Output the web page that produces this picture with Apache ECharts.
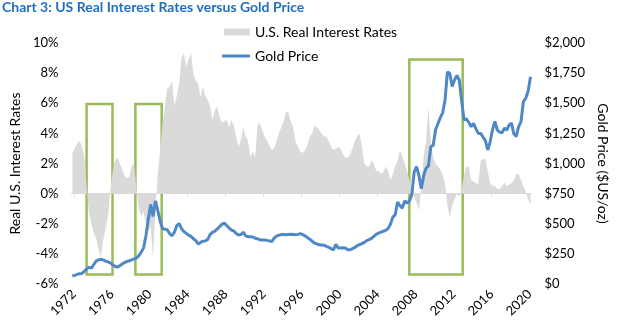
<!DOCTYPE html>
<html><head><meta charset="utf-8">
<script src="https://cdn.jsdelivr.net/npm/echarts@6/dist/echarts.min.js"></script>
<style>html,body{margin:0;padding:0;background:#fff}#c{width:618px;height:322px}</style>
</head><body><div id="c"></div>
<script>
// Quarterly samples, first sample at startYear, one every 0.25 year
const startYear = 1971.85;
const stepYears = 0.25;

// U.S. real interest rates (%), left axis
const realRates = [
  2.7, 3.0, 3.3, 3.5,
  3.2, 2.5, 0.5, -1.3,
  -2.0, -2.6, -3.0, -3.7,
  -4.2, -3.1, -2.3, -1.5,
  0.2, 1.5, 2.2, 2.4,
  2.0, 1.6, 1.2, 1.0,
  1.1, 1.8, 2.0, 0.3,
  -1.0, -1.5, -1.2, -2.0,
  -2.5, -2.2, -4.2, -1.0,
  1.3, 3.0, 4.7, 5.8,
  7.0, 7.1, 7.5, 5.8,
  6.5, 7.3, 9.0, 9.3,
  8.4, 8.9, 9.3, 8.0,
  7.5, 7.3, 6.4, 7.1,
  6.5, 6.2, 5.8, 4.9,
  5.5, 5.8, 5.1, 4.7,
  4.8, 4.9, 4.4, 4.9,
  4.5, 3.8, 3.1, 3.6,
  4.4, 3.8, 3.5, 2.4,
  2.8, 2.4, 4.5, 4.7,
  4.2, 3.8, 3.5, 3.2,
  2.9, 3.0, 3.5, 4.0,
  4.4, 4.8, 5.4, 5.4,
  4.8, 4.4, 3.5, 3.1,
  2.8, 2.7, 2.9, 3.2,
  3.8, 4.0, 4.5, 4.4,
  4.2, 4.0, 3.8, 3.8,
  3.5, 3.1, 2.9, 3.0,
  3.1, 3.0, 2.6, 2.4,
  2.4, 2.6, 3.0, 3.5,
  3.8, 4.0, 3.1, 2.0,
  1.8, 1.8, 2.2, 2.0,
  1.5, 1.5, 1.3, 1.4,
  1.8, 1.5, 0.9, 1.3,
  1.8, 2.2, 2.9, 2.5,
  2.0, 1.5, 0.9, 0.5,
  -0.2, -0.6, -1.1, 0.4,
  2.5, 3.5, 5.7, 3.5,
  2.4, 2.0, 1.8, 1.6,
  1.2, 0.7, -0.8, -1.6,
  -0.8, -0.4, 0.0, -0.2,
  0.3, 1.2, 1.8, 1.8,
  0.9, 0.8, 0.7, 0.6,
  2.2, 2.3, 2.3, 1.5,
  0.7, 0.5, 0.5, 0.3,
  0.3, 0.5, 0.7, 0.5,
  0.6, 0.7, 0.9, 1.3,
  1.3, 0.9, 0.5, 0.1,
  -0.4, -0.7
];

// Gold price ($US/oz), right axis
const goldPrice = [
  66, 72, 80, 85,
  88, 105, 125, 138,
  132, 160, 190, 200,
  205, 200, 190, 183,
  175, 160, 145, 140,
  152, 165, 178, 187,
  193, 200, 208, 215,
  235, 262, 300, 400,
  540, 660, 560, 690,
  610, 520, 460, 455,
  450, 418, 400, 430,
  485, 500, 460, 435,
  420, 405, 395, 375,
  360, 332, 345, 355,
  358, 368, 410, 428,
  438, 456, 475, 495,
  505, 485, 465, 448,
  440, 420, 407, 410,
  430, 400, 393, 393,
  390, 380, 375, 368,
  365, 365, 362, 358,
  351, 380, 398, 405,
  410, 410, 408, 410,
  412, 410, 408, 412,
  418, 410, 400, 385,
  372, 355, 340, 333,
  325, 324, 322, 312,
  305, 294, 282, 330,
  298, 299, 301, 298,
  285, 284, 294, 303,
  318, 327, 335, 345,
  360, 368, 378, 395,
  412, 422, 430, 438,
  445, 460, 495, 555,
  575, 680, 650, 630,
  690, 672, 690, 740,
  930, 974, 900, 790,
  900, 960, 980, 1139,
  1150, 1278, 1330, 1380,
  1420, 1527, 1760, 1748,
  1640, 1693, 1730, 1693,
  1520, 1361, 1370, 1340,
  1306, 1333, 1290, 1250,
  1250, 1220, 1190, 1112,
  1180, 1280, 1350, 1278,
  1260, 1255, 1292, 1278,
  1320, 1335, 1245, 1225,
  1306, 1347, 1513, 1541,
  1600, 1720
];

const yearTicks = [1972, 1976, 1980, 1984, 1988, 1992, 1996, 2000, 2004, 2008, 2012, 2016, 2020];

// Highlight boxes: [fromYear, topRate%, toYear, bottomRate%]
const boxes = [
  [1973.35, 5.95, 1976.08, -5.37],
  [1978.49, 5.95, 1981.26, -5.37],
  [2007.34, 8.9, 2012.96, -5.37]
];

const times = realRates.map((_, i) => +(startYear + i * stepYears).toFixed(2));

const FONT = 'Lato';
const chart = echarts.init(document.getElementById('c'), null, { renderer: 'canvas' });
const xMin = 1971.75, xMax = 2020.2;

chart.setOption({
  animation: false,
  backgroundColor: '#fff',
  title: {
    text: 'Chart 3: US Real Interest Rates versus Gold Price',
    left: 2, top: 0, padding: 0,
    textStyle: { fontFamily: FONT, fontWeight: 'bold', fontSize: 14, color: '#1e6fc4' }
  },
  legend: [
    {
      orient: 'vertical', left: 224, top: 25, padding: 0, itemWidth: 26, itemHeight: 7,
      textStyle: { fontFamily: FONT, fontSize: 14, color: '#000' },
      data: [{ name: 'U.S. Real Interest Rates', icon: 'rect' }]
    },
    {
      orient: 'vertical', left: 222, top: 49, padding: 0, itemWidth: 28, itemHeight: 3,
      textStyle: { fontFamily: FONT, fontSize: 14, color: '#000' },
      data: [{ name: 'Gold Price', icon: 'rect' }]
    }
  ],
  grid: { left: 60, right: 74, top: 43, bottom: 38, containLabel: false },
  xAxis: [
    {
      type: 'value', min: xMin, max: xMax, position: 'bottom',
      axisLine: { show: false, onZero: false }, axisTick: { show: false }, splitLine: { show: false },
      axisLabel: {
        customValues: yearTicks, rotate: 45, margin: 8,
        fontFamily: FONT, fontSize: 13, color: '#000', formatter: v => String(v)
      }
    },
    {
      type: 'value', min: xMin, max: xMax, position: 'bottom',
      axisLine: { show: true, onZero: true, onZeroAxisIndex: 0, lineStyle: { color: '#d9d9d9', width: 1 } },
      axisTick: { show: true, customValues: yearTicks, length: 3, inside: false, lineStyle: { color: '#d9d9d9' } },
      axisLabel: { show: false }, splitLine: { show: false }
    }
  ],
  yAxis: [
    {
      type: 'value', min: -6, max: 10, interval: 2, position: 'left',
      name: 'Real U.S. Interest Rates', nameLocation: 'middle', nameRotate: 90, nameGap: 47,
      nameTextStyle: { fontFamily: FONT, fontSize: 14, color: '#000' },
      axisLine: { show: false }, axisTick: { show: false }, splitLine: { show: false },
      axisLabel: { margin: 13, fontFamily: FONT, fontSize: 13, color: '#000', formatter: v => v + '%' }
    },
    {
      type: 'value', min: 0, max: 2000, interval: 250, position: 'right',
      name: 'Gold Price ($US/oz)', nameLocation: 'middle', nameRotate: -90, nameGap: 63,
      nameTextStyle: { fontFamily: FONT, fontSize: 14, color: '#000' },
      axisLine: { show: false }, axisTick: { show: false }, splitLine: { show: false },
      axisLabel: { margin: 13, fontFamily: FONT, fontSize: 13, color: '#000', formatter: v => '$' + v.toLocaleString('en-US') }
    }
  ],
  series: [
    {
      name: 'U.S. Real Interest Rates', type: 'line', xAxisIndex: 0, yAxisIndex: 0,
      data: times.map((t, i) => [t, realRates[i]]),
      symbol: 'none', z: 1,
      itemStyle: { color: '#dadada' },
      lineStyle: { width: 0, color: '#dadada' },
      areaStyle: { color: '#dadada', opacity: 1 },
      markArea: {
        silent: true, label: { show: false },
        itemStyle: { color: 'rgba(0,0,0,0)', borderColor: '#9bbb59', borderWidth: 2.5 },
        data: boxes.map(b => [{ coord: [b[0], b[1]] }, { coord: [b[2], b[3]] }])
      }
    },
    {
      name: 'Gold Price', type: 'line', xAxisIndex: 0, yAxisIndex: 1,
      data: times.map((t, i) => [t, goldPrice[i]]),
      symbol: 'none', z: 3,
      itemStyle: { color: '#4f88c6' },
      lineStyle: { width: 3, color: '#4f88c6' }
    }
  ]
});
</script>
</body></html>
